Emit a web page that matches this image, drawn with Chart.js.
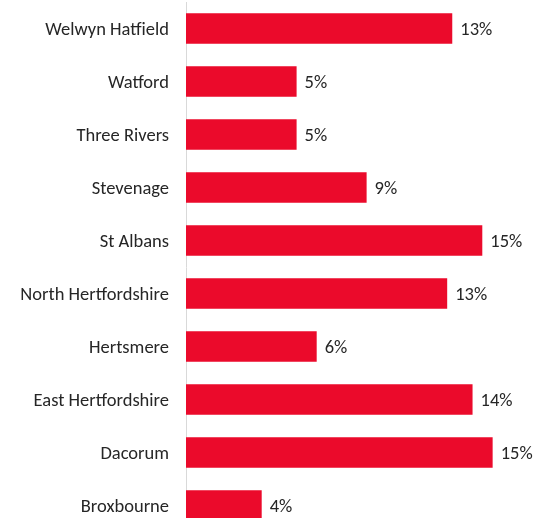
<!DOCTYPE html>
<html>
<head>
<meta charset="utf-8">
<script src="https://cdn.jsdelivr.net/npm/chart.js@4/dist/chart.umd.min.js"></script>
<style>
  html, body { margin: 0; padding: 0; background: #ffffff; overflow: hidden; }
  #wrap { width: 545px; height: 534px; }
</style>
</head>
<body>
<div id="wrap"><canvas id="c" width="545" height="534"></canvas></div>
<script>
const categories = ['Welwyn Hatfield', 'Watford', 'Three Rivers', 'Stevenage', 'St Albans',
  'North Hertfordshire', 'Hertsmere', 'East Hertfordshire', 'Dacorum', 'Broxbourne'];
const values = [13.12, 5.45, 5.45, 8.90, 14.60, 12.87, 6.44, 14.12, 15.11, 3.73];
const valueLabels = ['13%', '5%', '5%', '9%', '15%', '13%', '6%', '14%', '15%', '4%'];

const FONT = 'Carlito, Lato, "Liberation Sans", sans-serif';
const TEXT = '#262626';

const valueLabelPlugin = {
  id: 'valueLabels',
  afterDatasetsDraw(chart) {
    const ctx = chart.ctx;
    const meta = chart.getDatasetMeta(0);
    ctx.save();
    ctx.font = '18.5px ' + FONT;
    ctx.fillStyle = TEXT;
    ctx.textAlign = 'left';
    ctx.textBaseline = 'middle';
    meta.data.forEach((bar, i) => {
      ctx.fillText(valueLabels[i], bar.x + 8, bar.y + 1.5);
    });
    ctx.restore();
  }
};

new Chart(document.getElementById('c'), {
  type: 'bar',
  data: {
    labels: categories,
    datasets: [{
      data: values,
      backgroundColor: '#EB0A2B',
      borderWidth: 0,
      barPercentage: 0.574,
      categoryPercentage: 1.0
    }]
  },
  options: {
    indexAxis: 'y',
    responsive: false,
    animation: false,
    devicePixelRatio: 1,
    layout: { padding: { top: 2, bottom: 2, left: 0, right: 14 } },
    plugins: { legend: { display: false }, tooltip: { enabled: false } },
    scales: {
      x: {
        display: false,
        min: 0,
        max: 17
      },
      y: {
        grid: { display: false, drawTicks: false, tickLength: 0 },
        border: { display: true, color: '#D9D9D9', width: 1 },
        ticks: {
          color: TEXT,
          padding: 17,
          labelOffset: 1.5,
          font: { family: FONT, size: 18.5 }
        },
        afterFit(scale) {
          scale.width = 186;
          scale.paddingTop = 0;
          scale.paddingBottom = 0;
        }
      }
    }
  },
  plugins: [valueLabelPlugin]
});
</script>
</body>
</html>
